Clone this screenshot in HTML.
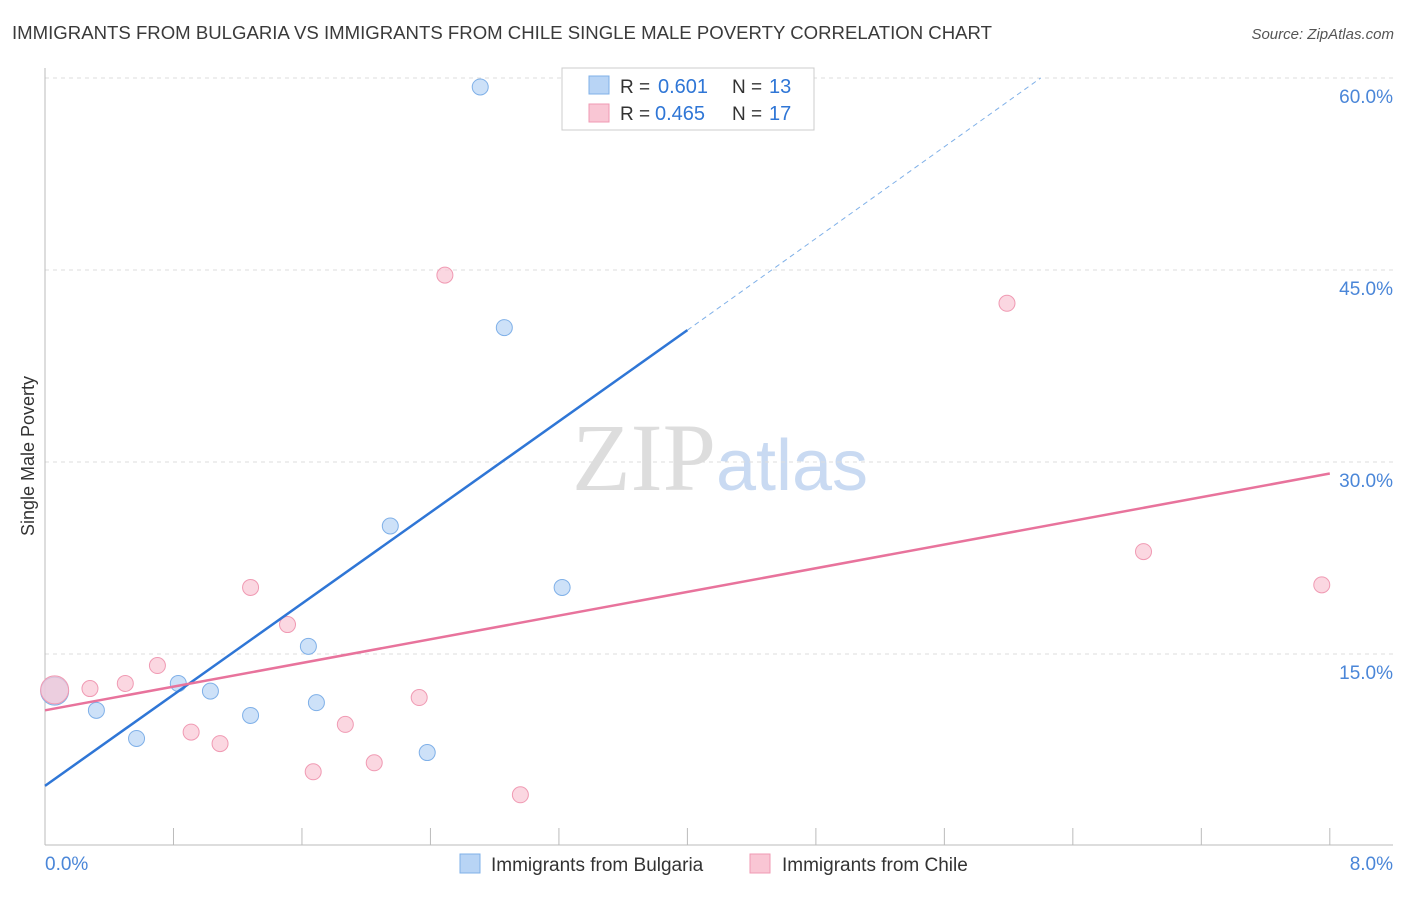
<!DOCTYPE html>
<html><head><meta charset="utf-8"><style>
body{margin:0;background:#fff;font-family:"Liberation Sans",sans-serif}
</style></head><body>
<svg id="chart" width="1406" height="892" xmlns="http://www.w3.org/2000/svg" font-family="Liberation Sans, sans-serif">
<text x="12" y="39" font-size="18" fill="#3a3a3a" textLength="980" lengthAdjust="spacingAndGlyphs">IMMIGRANTS FROM BULGARIA VS IMMIGRANTS FROM CHILE SINGLE MALE POVERTY CORRELATION CHART</text>
<text x="1394" y="39" font-size="15" fill="#555" text-anchor="end" font-style="italic">Source: ZipAtlas.com</text>
<text transform="translate(34,456) rotate(-90)" font-size="18" fill="#333" text-anchor="middle">Single Male Poverty</text>
<text x="720" y="490" font-size="96" text-anchor="middle" fill="#ddd" font-family="Liberation Serif, serif">ZIP<tspan fill="#c9daf2" font-family="Liberation Sans, sans-serif" font-size="72">atlas</tspan></text>
<g id="grid"></g><g id="axes"></g><g id="marks"></g>
<g>
<rect x="562" y="68" width="252" height="62" fill="#fff" stroke="#ccc"/>
<rect x="589" y="76" width="20" height="18" fill="#b8d4f5" stroke="#7fb0e8"/>
<text x="620" y="93" font-size="19" fill="#333">R =</text>
<text x="658" y="93" font-size="20" fill="#2f76d6">0.601</text>
<text x="732" y="93" font-size="19" fill="#333">N =</text>
<text x="769" y="93" font-size="20" fill="#2f76d6">13</text>
<rect x="589" y="104" width="20" height="18" fill="#f9c6d4" stroke="#f09ab3"/>
<text x="620" y="120" font-size="19" fill="#333">R =</text>
<text x="655" y="120" font-size="20" fill="#2f76d6">0.465</text>
<text x="732" y="120" font-size="19" fill="#333">N =</text>
<text x="769" y="120" font-size="20" fill="#2f76d6">17</text>
</g>
<g>
<rect x="460" y="854" width="20" height="19" fill="#b8d4f5" stroke="#7fb0e8"/>
<text x="491" y="871" font-size="19" fill="#333">Immigrants from Bulgaria</text>
<rect x="750" y="854" width="20" height="19" fill="#f9c6d4" stroke="#f09ab3"/>
<text x="782" y="871" font-size="19" fill="#333">Immigrants from Chile</text>
</g>
</svg>
<script>
const yTicks=[15,30,45,60];
const yTickLabels=["15.0%","30.0%","45.0%","60.0%"];
const xTickLabels=["0.0%","8.0%"];
const bulgariaX=[0.06,0.32,0.57,0.83,1.03,1.28,1.64,1.69,2.15,2.38,2.71,2.86,3.22];
const bulgariaY=[12.1,10.6,8.4,12.7,12.1,10.2,15.6,11.2,25.0,7.3,59.3,40.5,20.2];
const chileX=[0.06,0.28,0.50,0.70,0.91,1.09,1.28,1.51,1.67,1.87,2.05,2.33,2.49,2.96,5.99,6.84,7.95];
const chileY=[12.2,12.3,12.7,14.1,8.9,8.0,20.2,17.3,5.8,9.5,6.5,11.6,44.6,4.0,42.4,23.0,20.4];
const bulgariaLine=[0,4.7,4.0,40.3,6.2,60];
const chileLine=[0,10.6,8.0,29.1];
const NS="http://www.w3.org/2000/svg";
const sx=v=>45+v*160.6, sy=v=>846-v*12.8;
function mk(p,t,a){const e=document.createElementNS(NS,t);for(const k in a)e.setAttribute(k,a[k]);document.getElementById(p).appendChild(e);return e;}
yTicks.forEach((t,i)=>{
 const g=mk('grid','line',{x1:45,x2:1393,y1:sy(t),y2:sy(t),stroke:'#ddd','stroke-dasharray':'4,4'});
 
 
 const l=mk('grid','text',{x:1393,y:sy(t)+25,'font-size':19,fill:'#4a86d8','text-anchor':'end'});
 l.textContent=yTickLabels[i];
 
 
});
let ax=mk('axes','line',{x1:45,x2:45,y1:68,y2:845,stroke:'#bbb'});


ax=mk('axes','line',{x1:45,x2:1393,y1:845,y2:845,stroke:'#bbb'});


for(let i=0;i<=10;i++){const t=mk('axes','line',{x1:sx(i*0.8),x2:sx(i*0.8),y1:828,y2:845,stroke:'#bbb'});
 
 }
[[0,'start',45],[8,'end',1393]].forEach((d,i)=>{const t=mk('axes','text',{x:d[2],y:870,'font-size':19,fill:'#4a86d8','text-anchor':d[1]});t.textContent=xTickLabels[i];
 
 });
function pts(X,Y,f,s,n){X.forEach((x,i)=>{const c=mk('marks','circle',{cx:sx(x),cy:sy(Y[i]),r:i===0?14:8,fill:f,stroke:s,'fill-opacity':0.7});
 
 });}
pts(bulgariaX,bulgariaY,'#b8d4f5','#7fb0e8','bulgaria-point');
pts(chileX,chileY,'#f9c6d4','#f09ab3','chile-point');
let l=mk('marks','line',{x1:sx(bulgariaLine[0]),y1:sy(bulgariaLine[1]),x2:sx(bulgariaLine[2]),y2:sy(bulgariaLine[3]),stroke:'#2f76d6','stroke-width':2.5});


l=mk('marks','line',{x1:sx(bulgariaLine[2]),y1:sy(bulgariaLine[3]),x2:sx(bulgariaLine[4]),y2:sy(bulgariaLine[5]),stroke:'#7fb0e8','stroke-width':1,'stroke-dasharray':'5,4'});


l=mk('marks','line',{x1:sx(chileLine[0]),y1:sy(chileLine[1]),x2:sx(chileLine[2]),y2:sy(chileLine[3]),stroke:'#e8739c','stroke-width':2.5});


</script>
</body></html>
